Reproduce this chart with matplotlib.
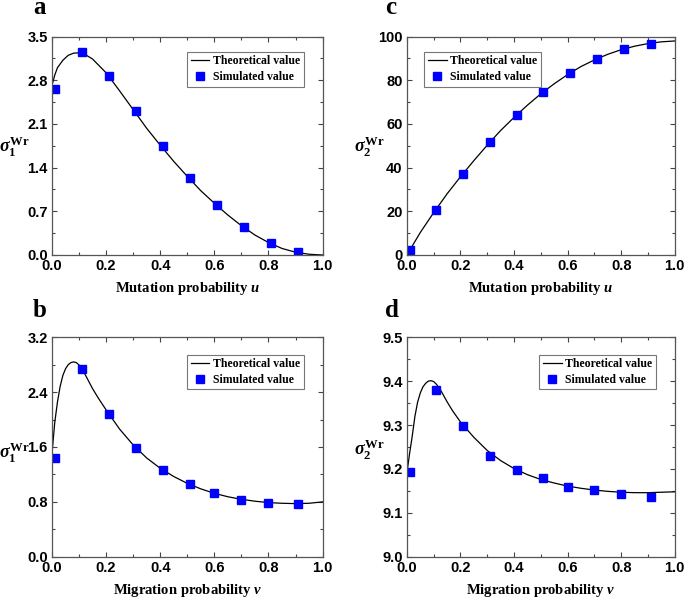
import numpy as np
import matplotlib
matplotlib.use('Agg')
import matplotlib.pyplot as plt

plt.rcParams['mathtext.fontset'] = 'custom'
plt.rcParams['mathtext.rm'] = 'Liberation Serif:bold'
plt.rcParams['mathtext.it'] = 'Liberation Serif:italic:bold'
plt.rcParams['mathtext.bf'] = 'Liberation Serif:bold'

# simulated points
sim_x_u = [0.01, 0.11, 0.21, 0.31, 0.41, 0.51, 0.61, 0.71, 0.81, 0.91]
sim_x_v = [0.01, 0.11, 0.21, 0.31, 0.41, 0.51, 0.60, 0.70, 0.80, 0.91]
sim_a = [2.66, 3.25, 2.865, 2.31, 1.75, 1.238, 0.795, 0.453, 0.197, 0.053]
sim_c = [2.1, 20.8, 37.2, 51.7, 64.2, 74.8, 83.3, 89.7, 94.1, 96.8]
sim_b = [1.444, 2.733, 2.086, 1.59, 1.269, 1.055, 0.924, 0.832, 0.783, 0.768]
sim_d = [9.1925, 9.380, 9.2976, 9.2298, 9.197, 9.1796, 9.159, 9.152, 9.142, 9.137]

# theoretical curves
th_x_a = [0, 0.01, 0.02, 0.04, 0.06, 0.08, 0.1, 0.12, 0.15, 0.2, 0.25, 0.3, 0.35,
          0.4, 0.45, 0.5, 0.55, 0.6, 0.65, 0.7, 0.75, 0.8, 0.85, 0.9, 0.95, 1.0]
th_a = [2.72, 2.88, 3.0, 3.12, 3.2, 3.235, 3.24, 3.22, 3.14, 2.92, 2.63, 2.33, 2.03,
        1.76, 1.50, 1.26, 1.03, 0.83, 0.64, 0.47, 0.32, 0.2, 0.105, 0.045, 0.012, 0.0]

th_x_c = [0, 0.05, 0.1, 0.15, 0.2, 0.25, 0.3, 0.35, 0.4, 0.45, 0.5, 0.55, 0.6,
          0.65, 0.7, 0.75, 0.8, 0.85, 0.9, 0.95, 1.0]
th_c = [0, 10.3, 19.4, 28.0, 35.8, 43.2, 50.3, 57.0, 63.0, 68.6, 73.8, 78.4, 82.6,
        86.3, 89.3, 91.9, 94.0, 95.6, 96.8, 97.6, 98.0]

th_x_b = [0, 0.01, 0.02, 0.03, 0.04, 0.05, 0.06, 0.07, 0.08, 0.09, 0.1, 0.11, 0.12,
          0.13, 0.14, 0.15, 0.17, 0.2, 0.25, 0.3, 0.35, 0.4, 0.45, 0.5, 0.55, 0.6,
          0.65, 0.7, 0.75, 0.8, 0.85, 0.9, 0.95, 1.0]
th_b = [1.5, 1.95, 2.25, 2.48, 2.64, 2.74, 2.8, 2.83, 2.84, 2.83, 2.795, 2.745, 2.675,
        2.6, 2.525, 2.45, 2.32, 2.14, 1.86, 1.63, 1.44, 1.29, 1.17, 1.07, 0.99, 0.925,
        0.875, 0.838, 0.81, 0.79, 0.78, 0.775, 0.78, 0.80]

th_x_d = [0, 0.01, 0.02, 0.03, 0.04, 0.05, 0.06, 0.07, 0.08, 0.09, 0.1, 0.11, 0.12,
          0.13, 0.14, 0.15, 0.17, 0.2, 0.25, 0.3, 0.35, 0.4, 0.45, 0.5, 0.55, 0.6,
          0.65, 0.7, 0.75, 0.8, 0.85, 0.9, 0.95, 1.0]
th_d = [9.19, 9.235, 9.275, 9.32, 9.352, 9.373, 9.387, 9.395, 9.40, 9.401, 9.399,
        9.393, 9.385, 9.375, 9.364, 9.353, 9.333, 9.307, 9.272, 9.242, 9.219, 9.201,
        9.187, 9.176, 9.168, 9.161, 9.156, 9.152, 9.149, 9.147, 9.146, 9.146, 9.147, 9.148]

panels = [
    ('a', [0.0759, 0.575, 0.395, 0.364], th_x_a, th_a, sim_x_u, sim_a, (0, 3.5), 0.7, 0.35,
     r'$\sigma_1^{\rm Wr}$', 'Mutation probability ', 'u', 'upper right', (0.93, 0.93),
     (-0.14, 0.495), (0.048, 0.977)),
    ('c', [0.594, 0.575, 0.391, 0.364], th_x_c, th_c, sim_x_u, sim_c, (0, 100), 20, 10,
     r'$\sigma_2^{\rm Wr}$', 'Mutation probability ', 'u', 'upper left', (0.065, 0.93),
     (-0.14, 0.495), (0.562, 0.977)),
    ('b', [0.0759, 0.072, 0.395, 0.366], th_x_b, th_b, sim_x_v, sim_b, (0, 3.2), 0.8, 0.4,
     r'$\sigma_1^{\rm Wr}$', 'Migration probability ', 'v', 'upper right', (0.93, 0.92),
     (-0.14, 0.475), (0.048, 0.472)),
    ('d', [0.594, 0.072, 0.391, 0.366], th_x_d, th_d, sim_x_v, sim_d, (9.0, 9.5), 0.1, 0.05,
     r'$\sigma_2^{\rm Wr}$', 'Migration probability ', 'v', 'upper right', (0.93, 0.92),
     (-0.14, 0.486), (0.562, 0.472)),
]

fig = plt.figure(figsize=(6.85, 6.0), dpi=100)

for (lab, rect, tx, ty, sx, sy, ylim, major, minor, ylab, xlab, var, loc, anchor,
     ylabpos, labpos) in panels:
    ax = fig.add_axes(rect)
    ax.plot(tx, ty, color='black', lw=0.9, label='Theoretical value')
    ax.plot(sx, sy, 's', color='#0000ff', ms=6, label='Simulated value')
    ax.set_xlim(0, 1)
    ax.set_ylim(*ylim)
    ax.set_xticks(np.arange(0, 1.01, 0.2))
    ax.set_xticks(np.arange(0, 1.01, 0.1), minor=True)
    ax.set_yticks(np.arange(ylim[0], ylim[1] + 1e-9, major))
    ax.set_yticks(np.arange(ylim[0], ylim[1] + 1e-9, minor), minor=True)
    if major >= 10:
        ax.yaxis.set_major_formatter(matplotlib.ticker.FormatStrFormatter('%d'))
    else:
        ax.yaxis.set_major_formatter(matplotlib.ticker.FormatStrFormatter('%.1f'))
    ax.tick_params(which='both', direction='in', top=True, right=True, width=0.8, color='#444444')
    ax.tick_params(which='major', length=3.5, pad=3)
    ax.tick_params(which='minor', length=2)
    for t in ax.get_xticklabels() + ax.get_yticklabels():
        t.set_fontfamily('Liberation Sans')
        t.set_fontweight('bold')
        t.set_fontsize(10.5)
    for s in ax.spines.values():
        s.set_color('#555555')
        s.set_linewidth(0.9)
    ax.set_xlabel(xlab + r'$\it{' + var + '}$', family='Liberation Serif', weight='bold',
                  fontsize=10.5, labelpad=5)
    ax.set_ylabel(ylab, fontsize=13, rotation=0, va='center', ha='center')
    ax.yaxis.set_label_coords(*ylabpos)
    leg = ax.legend(loc=loc, frameon=True, fancybox=False, handlelength=1.6,
                    handletextpad=0.3, borderpad=0.3, labelspacing=0.3, borderaxespad=0,
                    prop={'family': 'Liberation Serif', 'weight': 'bold', 'size': 8.5},
                    bbox_to_anchor=anchor)
    leg.get_frame().set_edgecolor('#555555')
    leg.get_frame().set_linewidth(0.8)
    fig.text(labpos[0], labpos[1], lab, family='Liberation Serif',
             weight='bold', fontsize=18, va='baseline', ha='left')

fig.savefig('out.png', dpi=100)
